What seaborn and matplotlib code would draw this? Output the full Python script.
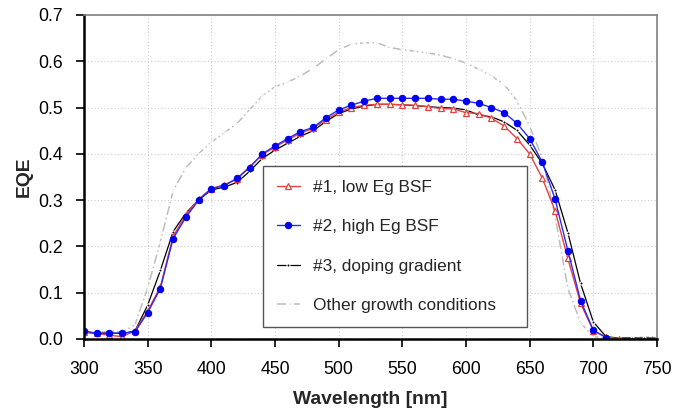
import numpy as np
import pandas as pd
import seaborn as sns
from matplotlib import pyplot as plt

# wavelength grid of the measurements [nm]
wavelength = list(range(300, 760, 10))

nan = np.nan
# EQE (nan = no point shown)
eqe_low_eg = [0.015, 0.012, 0.008, 0.005, 0.018, 0.060, 0.113, 0.222, 0.268, 0.302,
              0.325, 0.333, 0.345, 0.372, 0.398, 0.415, 0.430, 0.445, 0.455, 0.474,
              0.490, 0.500, 0.505, 0.507, 0.507, 0.506, 0.505, 0.502, 0.498, 0.497,
              0.489, 0.487, 0.477, 0.460, 0.433, 0.400, 0.347, 0.277, 0.174, 0.077,
              0.018, 0.004, 0.001, nan, nan, nan]
eqe_high_eg = [0.018, 0.012, 0.012, 0.013, 0.015, 0.057, 0.109, 0.217, 0.263, 0.300,
               0.325, 0.331, 0.347, 0.370, 0.400, 0.417, 0.433, 0.448, 0.457, 0.478,
               0.495, 0.505, 0.514, 0.520, 0.520, 0.520, 0.520, 0.520, 0.518, 0.518,
               0.514, 0.509, 0.500, 0.489, 0.466, 0.433, 0.382, 0.302, 0.191, 0.083,
               0.019, 0.003, nan, nan, nan, nan]
eqe_doping = [0.015, 0.012, 0.013, 0.012, 0.017, 0.073, 0.148, 0.232, 0.272, 0.300,
              0.322, 0.328, 0.338, 0.362, 0.390, 0.408, 0.423, 0.438, 0.450, 0.470,
              0.487, 0.497, 0.503, 0.507, 0.507, 0.506, 0.504, 0.502, 0.500, 0.499,
              0.495, 0.484, 0.480, 0.469, 0.451, 0.419, 0.379, 0.322, 0.230, 0.120,
              0.037, 0.005, 0.002, 0.002, 0.002, 0.002]
eqe_other = [0.015, 0.012, 0.018, 0.015, 0.030, 0.110, 0.210, 0.320, 0.370, 0.400,
             0.425, 0.445, 0.465, 0.495, 0.525, 0.545, 0.555, 0.568, 0.585, 0.605,
             0.625, 0.637, 0.640, 0.640, 0.630, 0.625, 0.622, 0.618, 0.613, 0.606,
             0.596, 0.583, 0.568, 0.550, 0.515, 0.460, 0.390, 0.265, 0.110, 0.035,
             0.005, 0.002, 0.002, 0.003, 0.004, 0.005]

labels = ["#1, low Eg BSF", "#2, high Eg BSF", "#3, doping gradient",
          "Other growth conditions"]

df = pd.DataFrame({"wl": wavelength, labels[0]: eqe_low_eg, labels[1]: eqe_high_eg,
                   labels[2]: eqe_doping, labels[3]: eqe_other})

sns.set_theme(style="white")
plt.rcParams['font.family'] = ['Liberation Sans', 'DejaVu Sans']

fig = plt.figure(figsize=(6.75, 4.12), dpi=100)
ax = fig.add_axes([0.1244, 0.1772, 0.8489, 0.7864])

# draw order: grey in the back
sns.lineplot(data=df, x="wl", y=labels[3], ax=ax, color="#bdbdbd", lw=1.1,
             dashes=False, linestyle=(0, (6, 2, 1, 2)), marker="x", ms=3,
             mew=0.8, label=labels[3])
sns.lineplot(data=df, x="wl", y=labels[2], ax=ax, color="black", lw=0.9,
             marker="o", ms=2.2, label=labels[2])
sns.lineplot(data=df, x="wl", y=labels[0], ax=ax, color="#e64040", lw=1.0,
             marker="^", ms=5, mfc="white", mec="#e64040", mew=0.9, label=labels[0])
sns.lineplot(data=df, x="wl", y=labels[1], ax=ax, color="#2a2aff", lw=1.0,
             marker="o", ms=4.6, mfc="#0000f0", mec="#0000f0", label=labels[1])

ax.set_xlim(300, 750)
ax.set_ylim(0, 0.7)
ax.set_xticks(np.arange(300, 751, 50))
ax.set_yticks(np.arange(0, 0.71, 0.1))
ax.set_yticklabels([f"{v:.1f}" for v in np.arange(0, 0.71, 0.1)])
ax.grid(True, color="#cccccc", linestyle=(0, (1, 2)), lw=0.8)
ax.tick_params(axis="both", direction="out", length=6, width=1.2, labelsize=12.7,
               colors="black")
ax.tick_params(axis="x", pad=10)
ax.tick_params(axis="y", pad=9)
ax.tick_params(top=False, right=False, left=True, bottom=True)

for side in ["left", "bottom"]:
    ax.spines[side].set_color("black")
    ax.spines[side].set_linewidth(1.8)
for side in ["top", "right"]:
    ax.spines[side].set_color("#808080")
    ax.spines[side].set_linewidth(1.2)

ax.set_xlabel("Wavelength [nm]", fontsize=13.9, fontweight="bold", labelpad=9)
ax.set_ylabel("EQE", fontsize=13.9, fontweight="bold", labelpad=4)

handles, labs = ax.get_legend_handles_labels()
order = [labs.index(l) for l in labels]
leg = ax.legend([handles[i] for i in order], [labs[i] for i in order],
                loc="lower left", bbox_to_anchor=(0.312, 0.037, 0.461, 0.50),
                mode="expand", borderaxespad=0, fontsize=12.4, labelspacing=1.42,
                handlelength=1.35, handletextpad=0.75, borderpad=0.8, fancybox=False,
                framealpha=1, edgecolor="#555555")
leg.get_frame().set_linewidth(1.0)

fig.savefig("out.png", dpi=100)
